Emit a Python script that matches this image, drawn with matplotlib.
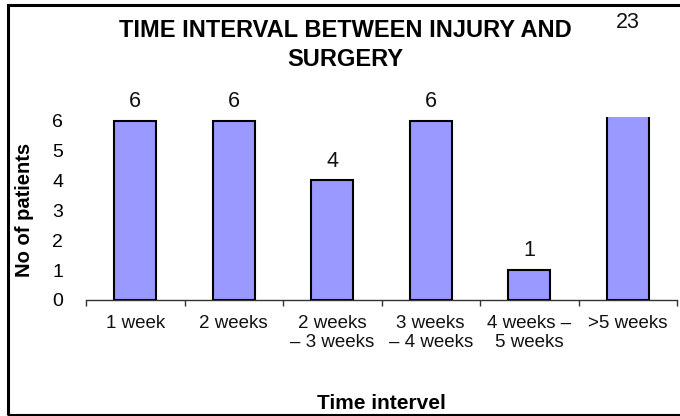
import matplotlib
matplotlib.use("Agg")
import matplotlib.pyplot as plt
from matplotlib.patches import Rectangle
import matplotlib.transforms as mtransforms

categories = ["1 week", "2 weeks", "2 weeks\n\u2013 3 weeks", "3 weeks\n\u2013 4 weeks", "4 weeks \u2013\n5 weeks", ">5 weeks"]
patients = [6, 6, 4, 6, 1, 23]
yticks = [0, 1, 2, 3, 4, 5, 6]
y_max = 6.12

plt.rcParams['font.family'] = ['Liberation Sans', 'DejaVu Sans']

fig = plt.figure(figsize=(6.8, 4.16), dpi=100)
ax = fig.add_axes([86/680, 1-300/416, (677-86)/680, (300-117)/416])

x = list(range(len(categories)))
bars = ax.bar(x, patients, width=0.43, color='#9999FF', edgecolor='black', linewidth=1.5, zorder=3)

ax.set_xlim(-0.5, len(categories) - 0.5)
ax.set_ylim(0, y_max)
ax.set_yticks(yticks)
ax.set_yticklabels([str(t) for t in yticks], fontsize=14)
ax.tick_params(axis='y', length=0, pad=16.5)

ax.set_xticks(x)
ax.set_xticklabels(categories, fontsize=13.5, linespacing=1.2, color='#111111')
ax.set_xticks([i - 0.5 for i in range(len(categories) + 1)], minor=True)
ax.tick_params(axis='x', which='major', length=0, pad=10.5)
ax.tick_params(axis='x', which='minor', length=4.3, width=1, color='#333333', direction='out')

for s in ['left', 'right', 'top']:
    ax.spines[s].set_visible(False)
ax.spines['bottom'].set_color('#333333')
ax.spines['bottom'].set_linewidth(1)

# value labels
top_trans = mtransforms.blended_transform_factory(ax.transData, fig.transFigure)
for xi, v in zip(x, patients):
    if v <= y_max:
        ax.annotate(str(v), xy=(xi, v), xytext=(0, 10), textcoords='offset points',
                    ha='center', va='baseline', fontsize=15.5, color='#111111')
    else:
        ax.text(xi, 1 - 28/416, str(v), transform=top_trans, ha='center', va='baseline',
                fontsize=15.5, color='#111111', clip_on=False)

# title
fig.text(345/680, 1 - 36.7/416, "TIME INTERVAL BETWEEN INJURY AND", ha='center', va='baseline',
         fontsize=17, fontweight='bold')
fig.text(345/680, 1 - 66/416, "SURGERY", ha='center', va='baseline',
         fontsize=17, fontweight='bold')

# axis labels
fig.text(25/680, 1 - 210/416, "No of patients", rotation=90, ha='center', va='center',
         fontsize=14.5, fontweight='bold')
fig.text(381.5/680, 1 - 409/416, "Time intervel", ha='center', va='baseline',
         fontsize=15, fontweight='bold')

# outer frame
fig.patches.append(Rectangle((8/680, 1 - 415/416), 1.05, (415 - 5)/416, transform=fig.transFigure,
                             fill=False, edgecolor='black', linewidth=2.2, clip_on=False))

fig.savefig("out.png", dpi=100)
